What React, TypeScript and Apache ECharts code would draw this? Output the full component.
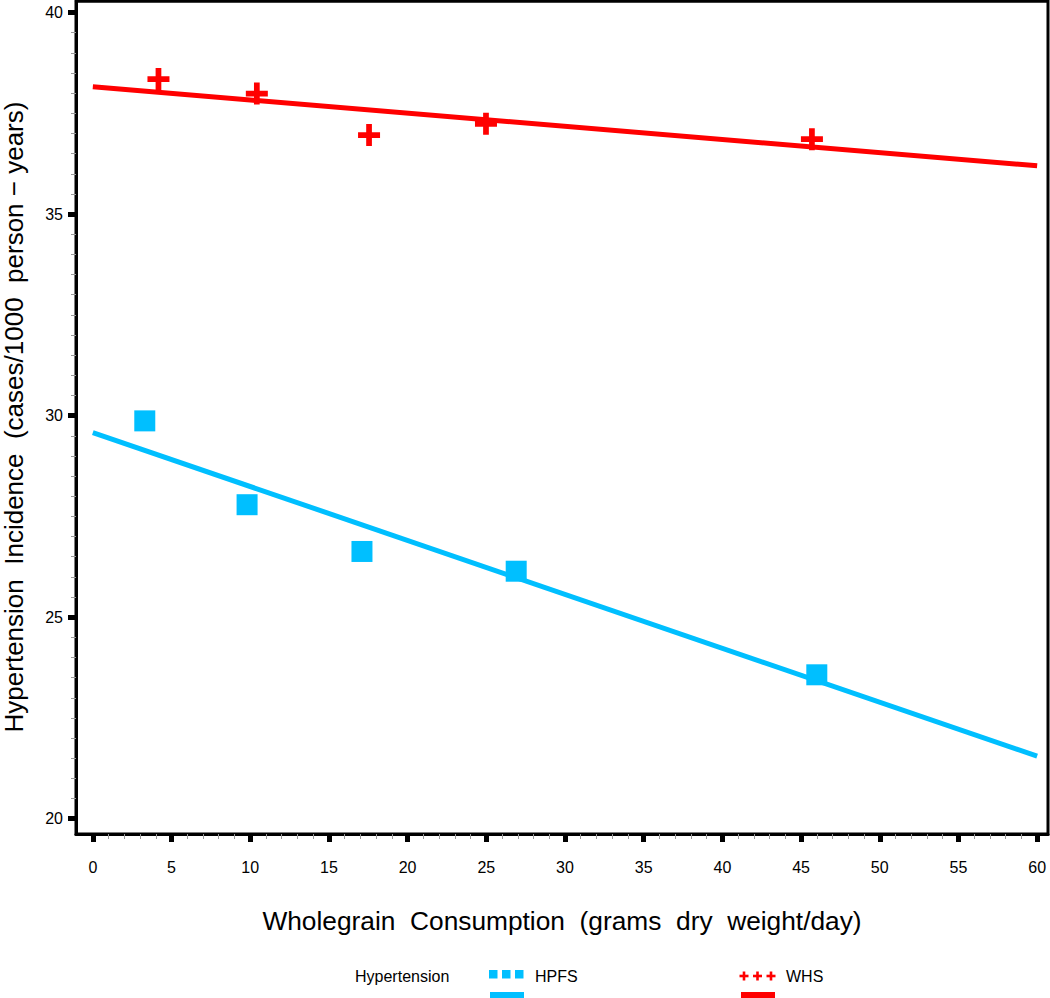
import React, { useEffect, useRef } from "react";
import * as echarts from "echarts";

// ---- data ----
const hpfsX = [3.3, 9.8, 17.1, 26.9, 46.0];
const hpfsY = [29.87, 27.79, 26.63, 26.14, 23.57];
const whsX = [4.17, 10.42, 17.55, 24.98, 45.69];
const whsY = [38.35, 37.99, 36.96, 37.24, 36.86];
// fitted (regression) lines: endpoints at x = 0 and x = 60
const fitX = [0, 60];
const hpfsFitY = [29.58, 21.55];
const whsFitY = [38.16, 36.2];

const xMajorTicks = [0, 5, 10, 15, 20, 25, 30, 35, 40, 45, 50, 55, 60];
const yMajorTicks = [20, 25, 30, 35, 40];
const xMinorTicks = Array.from({ length: 61 }, (_, i) => i).filter((v) => v % 5 !== 0);
const yMinorTicks = Array.from({ length: 41 }, (_, i) => 20 + i * 0.5).filter((v) => v % 5 !== 0);

const X_MIN = -1.07;
const X_MAX = 60.69;
const Y_MIN = 19.62;
const Y_MAX = 40.28;

const X_TITLE = "Wholegrain\u00a0 Consumption\u00a0 (grams\u00a0 dry\u00a0 weight/day)";
const Y_TITLE = "Hypertension\u00a0 Incidence\u00a0 (cases/1000\u00a0 person \u2212 years)";

const BLUE = "#00BFFF";
const RED = "#FF0000";
const FONT = "Liberation Sans, Arial, Helvetica, sans-serif";

const crossPath = "path://M37,0H63V37H100V63H63V100H37V63H0V37H37Z";

export default function App() {
  const ref = useRef<HTMLDivElement>(null);

  useEffect(() => {
    if (!ref.current) return;
    const chart = echarts.init(ref.current, null, { renderer: "svg" });

    const plus = (cx: number, cy: number) => [
      { type: "rect", shape: { x: cx - 4.5, y: cy - 1.3, width: 9, height: 2.6 }, style: { fill: RED } },
      { type: "rect", shape: { x: cx - 1.3, y: cy - 4.5, width: 2.6, height: 9 }, style: { fill: RED } },
    ];

    chart.setOption({
      animation: false,
      textStyle: { fontFamily: FONT },
      grid: {
        left: 76,
        right: 2,
        top: 1.3,
        bottom: 164,
        containLabel: false,
        outerBoundsMode: "none",
        show: true,
        borderColor: "#000",
        borderWidth: 3,
        backgroundColor: "#fff",
      },
      xAxis: [
        {
          type: "value",
          min: X_MIN,
          max: X_MAX,
          position: "bottom",
          axisLine: { show: true, onZero: false, lineStyle: { color: "#000", width: 3 } },
          axisTick: { show: true, length: 8, customValues: xMajorTicks, lineStyle: { color: "#000", width: 5 } },
          axisLabel: {
            customValues: xMajorTicks,
            margin: 25,
            fontSize: 16,
            color: "#000",
            fontFamily: FONT,
          },
          splitLine: { show: false },
          name: X_TITLE,
          nameLocation: "middle",
          nameGap: 74,
          nameTextStyle: { fontSize: 26.3, color: "#000", fontFamily: FONT },
        },
        {
          type: "value",
          min: X_MIN,
          max: X_MAX,
          position: "bottom",
          axisLine: { show: false, onZero: false },
          axisTick: { show: true, length: 5, customValues: xMinorTicks, lineStyle: { color: "#999", width: 1 } },
          axisLabel: { show: false },
          splitLine: { show: false },
        },
      ],
      yAxis: [
        {
          type: "value",
          min: Y_MIN,
          max: Y_MAX,
          position: "left",
          axisLine: { show: true, onZero: false, lineStyle: { color: "#000", width: 3 } },
          axisTick: { show: true, length: 8, customValues: yMajorTicks, lineStyle: { color: "#000", width: 5 } },
          axisLabel: {
            customValues: yMajorTicks,
            margin: 13,
            fontSize: 16,
            color: "#000",
            fontFamily: FONT,
          },
          splitLine: { show: false },
        },
        {
          type: "value",
          min: Y_MIN,
          max: Y_MAX,
          position: "left",
          axisLine: { show: false, onZero: false },
          axisTick: { show: true, length: 5, customValues: yMinorTicks, lineStyle: { color: "#999", width: 1 } },
          axisLabel: { show: false },
          splitLine: { show: false },
        },
      ],
      series: [
        {
          name: "HPFS fit",
          type: "line",
          data: fitX.map((x, i) => [x, hpfsFitY[i]]),
          showSymbol: false,
          lineStyle: { color: BLUE, width: 5 },
          z: 2,
        },
        {
          name: "WHS fit",
          type: "line",
          data: fitX.map((x, i) => [x, whsFitY[i]]),
          showSymbol: false,
          lineStyle: { color: RED, width: 5 },
          z: 2,
        },
        {
          name: "HPFS",
          type: "scatter",
          data: hpfsX.map((x, i) => [x, hpfsY[i]]),
          symbol: "rect",
          symbolSize: 21,
          itemStyle: { color: BLUE, opacity: 1 },
          z: 3,
        },
        {
          name: "WHS",
          type: "scatter",
          data: whsX.map((x, i) => [x, whsY[i]]),
          symbol: crossPath,
          symbolSize: 22,
          itemStyle: { color: RED, opacity: 1 },
          z: 3,
        },
      ],
      graphic: [
        {
          type: "text",
          x: 14,
          y: 417,
          rotation: Math.PI / 2,
          style: {
            text: Y_TITLE,
            fill: "#000",
            font: `26px ${FONT}`,
            textAlign: "center",
            textVerticalAlign: "middle",
          },
        },
        {
          type: "text",
          left: 355,
          top: 968,
          style: { text: "Hypertension", fill: "#000", font: `16px ${FONT}` },
        },
        { type: "rect", shape: { x: 489, y: 970, width: 8.5, height: 8.5 }, style: { fill: BLUE } },
        { type: "rect", shape: { x: 502, y: 970, width: 8.5, height: 8.5 }, style: { fill: BLUE } },
        { type: "rect", shape: { x: 515, y: 970, width: 8.5, height: 8.5 }, style: { fill: BLUE } },
        { type: "rect", shape: { x: 490, y: 992, width: 34, height: 8 }, style: { fill: BLUE } },
        {
          type: "text",
          left: 535,
          top: 968,
          style: { text: "HPFS", fill: "#000", font: `16px ${FONT}` },
        },
        ...plus(744, 976),
        ...plus(757.5, 976),
        ...plus(771, 976),
        { type: "rect", shape: { x: 741, y: 992, width: 34, height: 8 }, style: { fill: RED } },
        {
          type: "text",
          left: 786,
          top: 968,
          style: { text: "WHS", fill: "#000", font: `16px ${FONT}` },
        },
      ],
    });

    return () => chart.dispose();
  }, []);

  return (
    <div
      ref={ref}
      style={{ position: "fixed", left: 0, top: 0, width: 1050, height: 998, background: "#fff" }}
    />
  );
}
